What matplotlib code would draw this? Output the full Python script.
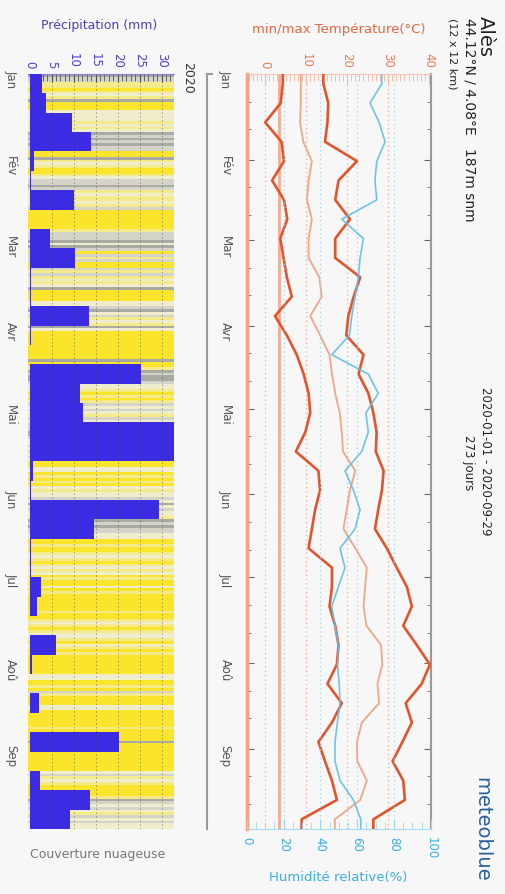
import numpy as np
import matplotlib.pyplot as plt
from matplotlib.colors import ListedColormap
from matplotlib.transforms import blended_transform_factory

# weekly values, 2020-01-01 .. 2020-09-29 (39 weeks)
t_min = [4.3, 3.8, 0.0, 4.0, 4.6, 1.7, 4.6, 5.4, 3.7, 4.5,
         5.3, 6.5, 2.4, 5.3, 7.7, 9.4, 10.6, 11.0, 9.8, 7.5,
         13.0, 13.4, 12.2, 11.4, 10.6, 16.3, 16.3, 15.7, 17.1, 17.9,
         17.5, 15.2, 18.7, 16.3, 13.0, 14.6, 16.3, 17.5, 8.9]
t_max = [14.2, 15.4, 15.2, 14.6, 22.4, 17.9, 17.1, 20.7, 17.1, 17.1,
         23.2, 21.6, 20.3, 19.8, 24.0, 22.8, 25.2, 26.4, 27.2, 27.0,
         28.9, 28.5, 27.6, 26.8, 29.7, 32.1, 34.6, 35.8, 33.7, 37.0,
         40.2, 38.2, 34.3, 35.8, 33.5, 31.1, 33.7, 34.1, 26.4]
t_mean = [8.7, 8.7, 8.5, 9.3, 11.4, 10.6, 10.2, 11.4, 10.6, 10.6,
          13.2, 13.8, 11.0, 13.4, 15.7, 16.3, 17.1, 18.2, 18.7, 19.0,
          22.0, 20.7, 19.9, 19.1, 22.0, 24.8, 24.4, 24.0, 24.7, 28.3,
          28.6, 27.4, 27.8, 23.6, 22.4, 22.5, 24.8, 23.2, 17.0]
humidity = [73.4, 67.0, 72.0, 75.2, 70.7, 69.7, 70.7, 51.6, 63.4, 61.6,
            60.7, 58.9, 57.1, 55.8, 46.2, 66.1, 71.5, 64.8, 66.1, 62.5,
            53.4, 58.0, 61.6, 58.9, 50.7, 53.4, 49.8, 46.2, 48.0, 49.8,
            49.3, 50.3, 50.7, 49.3, 48.0, 48.0, 50.7, 58.0, 62.0]
precip = [2.8, 3.8, 9.6, 14.0, 1.0, 0.4, 10.0, 0.0, 4.6, 10.2,
          0.3, 0.3, 13.5, 0.3, 0.0, 25.4, 11.5, 12.2, 45.0, 40.0,
          0.8, 0.3, 29.5, 14.6, 0.3, 0.3, 2.5, 1.7, 0.0, 6.1,
          0.6, 0.0, 2.1, 0.0, 20.2, 0.0, 2.3, 13.7, 9.1]
# daily cloud cover class, one string per week (0 clear .. 4 overcast)
cloud = ["4331101", "2140002", "2221212", "4343433", "0041210", "0123343",
         "1211213", "0000000", "1333424", "3031300", "3131212", "4000022",
         "3423121", "4200000", "0000040", "0143443", "2210101", "3232132",
         "3334432", "2323232", "0022010", "1021223", "2423221", "4343322",
         "0010012", "1012120", "1002010", "0000010", "0121012", "2102101",
         "0000000", "2200103", "1000220", "0000010", "0004000", "0000000",
         "2312100", "0014323", "2132322"]

months = ["Jan", "Fév", "Mar", "Avr", "Mai", "Jun", "Jul", "Aoû", "Sep"]
month_start = [0, 31, 60, 91, 121, 152, 182, 213, 244]
n_days = 273

W, H = 505, 895
bg = "#f7f7f7"
fig = plt.figure(figsize=(W / 100, H / 100), dpi=100, facecolor=bg)


def box(x0, x1, y0, y1):
    return [x0 / W, 1 - y1 / H, (x1 - x0) / W, (y1 - y0) / H]


week_mid = np.arange(len(t_min)) * 7 + 3.5
tt = np.r_[0, week_mid, n_days]


def ext(v):
    return np.r_[v[0], v, v[-1]]


# ---- temperature / humidity panel
ax = fig.add_axes(box(246.7, 430.7, 75, 830), facecolor=bg)
axh = ax.twiny()
ax.xaxis.tick_top()
axh.xaxis.tick_bottom()

for v in [0, 10, 20, 30]:
    ax.axvline(v, color="#f4a88e", ls=(0, (1, 2.5)), lw=0.9, zorder=1)
for v in [20, 40, 60, 80]:
    axh.axvline(v, color="#9fd4f0", ls=(0, (1, 2.5)), lw=0.9, zorder=1)
ax.axvline(3.5, color="#f4ab92", lw=2, zorder=1)

ax.plot(ext(t_mean), tt, color="#f2a587", lw=1.3, zorder=3)
ax.plot(ext(t_min), tt, color="#e2542c", lw=1.9, zorder=4)
ax.plot(ext(t_max), tt, color="#e2542c", lw=1.9, zorder=4)
axh.plot(ext(humidity), tt, color="#62bde9", lw=1.2, alpha=0.9, zorder=5)

ax.set_xlim(-4.5, 40.4)
axh.set_xlim(0, 100)
ax.set_ylim(n_days, 0)

ax.set_xticks([0, 10, 20, 30, 40])
ax.set_xticks(np.arange(-4, 41), minor=True)
ax.tick_params(axis="x", which="both", direction="in", color="#f5b6a0",
               labelcolor="#ef7a55", labelsize=8.5, labelrotation=-90, pad=5)
ax.tick_params(axis="x", which="major", length=7)
ax.tick_params(axis="x", which="minor", length=5)

axh.set_xticks([0, 20, 40, 60, 80, 100])
axh.set_xticks(np.arange(0, 101, 5), minor=True)
axh.tick_params(axis="x", which="both", direction="in", color="#9cd6f2",
                labelcolor="#3aaee6", labelsize=8.5, labelrotation=-90, pad=5)
axh.tick_params(axis="x", which="major", length=7)
axh.tick_params(axis="x", which="minor", length=5)

ax.set_yticks(month_start, labels=months)
ax.set_yticks([m + d for m in month_start for d in (10, 20) if m + d < n_days], minor=True)
ax.tick_params(axis="y", which="both", direction="in", left=True, right=True,
               color="#666666", labelcolor="#555555", labelsize=8.5,
               labelrotation=-90, pad=11)
ax.tick_params(axis="y", which="major", length=5)
ax.tick_params(axis="y", which="minor", length=3)

ax.spines["left"].set_color("#f4a184")
ax.spines["left"].set_linewidth(2.5)
ax.spines["top"].set_color("#f8c4b2")
ax.spines["bottom"].set_color("#a8dcf3")
ax.spines["right"].set_color("#9a9a9a")
ax.spines["right"].set_linewidth(1.5)
for s in axh.spines.values():
    s.set_visible(False)

# year axis line
tr = blended_transform_factory(ax.transAxes, ax.transData)
ax.plot([-0.216, -0.216], [0, n_days], transform=tr, clip_on=False,
        color="#9a9a9a", lw=1.5)
ax.plot([-0.216, -0.19], [0, 0], transform=tr, clip_on=False,
        color="#9a9a9a", lw=1.5)

# ---- precipitation / cloud panel
axp = fig.add_axes(box(28.3, 174, 75, 830), facecolor=bg)
levels = np.array([int(c) for w in cloud for c in w])
cmap = ListedColormap(["#fbe42c", "#f5ea8a", "#f0edcd", "#d4d4c8", "#aaaaa4"])
axp.pcolormesh([-0.3, 32.8], np.arange(n_days + 1), levels[:, None],
               cmap=cmap, vmin=-0.5, vmax=4.5, zorder=1)
axp.barh(week_mid, precip, height=7, color="#3b2be2", zorder=3)
for v in [5, 10, 15, 20, 25, 30]:
    axp.axvline(v, color="#444444", ls=(0, (1.5, 2.5)), lw=0.7, alpha=0.5, zorder=4)
axp.set_xlim(-0.3, 32.8)
axp.set_ylim(n_days, 0)
axp.xaxis.tick_top()
axp.set_xticks([0, 5, 10, 15, 20, 25, 30])
axp.set_xticks(np.arange(0, 33), minor=True)
axp.tick_params(axis="x", which="both", direction="in", color="#555555",
                labelcolor="#4b3fd0", labelsize=8.5, labelrotation=-90, pad=5)
axp.tick_params(axis="x", which="major", length=6)
axp.tick_params(axis="x", which="minor", length=5)
axp.set_yticks(month_start, labels=months)
axp.tick_params(axis="y", length=0, labelcolor="#555555", labelsize=8.5,
                labelrotation=-90, pad=8)
for k in ["left", "right", "bottom"]:
    axp.spines[k].set_visible(False)
axp.spines["top"].set_color("#8a80e0")

# ---- texts
fig.text(339 / W, 1 - 30 / H, "min/max Température(°C)", ha="center", va="center",
         color="#e8673f", fontsize=9.5)
fig.text(338 / W, 1 - 878 / H, "Humidité relative(%)", ha="center", va="center",
         color="#3aaee6", fontsize=9.5)
fig.text(99 / W, 1 - 25 / H, "Précipitation (mm)", ha="center", va="center",
         color="#4d3fc4", fontsize=9)
fig.text(98 / W, 1 - 855 / H, "Couverture nuageuse", ha="center", va="center",
         color="#777777", fontsize=9)
fig.text(188 / W, 1 - 78 / H, "2020", ha="center", va="center", rotation=-90,
         color="#333333", fontsize=9)

rot = dict(rotation=-90, rotation_mode="anchor", va="center")
fig.text(485 / W, 1 - 16 / H, "Alès", ha="left", fontsize=14, color="#222222", **rot)
fig.text(469 / W, 1 - 18 / H, "44.12°N / 4.08°E   187m snm", ha="left",
         fontsize=10, color="#222222", **rot)
fig.text(452 / W, 1 - 18 / H, "(12 x 12 km)", ha="left", fontsize=8,
         color="#222222", **rot)
fig.text(486 / W, 1 - 461 / H, "2020-01-01 - 2020-09-29", ha="center",
         fontsize=8.5, color="#222222", **rot)
fig.text(469 / W, 1 - 463 / H, "273 jours", ha="center", fontsize=8.5,
         color="#222222", **rot)
fig.text(482 / W, 1 - 777 / H, "meteoblue", ha="left", fontsize=14,
         color="#29609f", **rot)

fig.savefig("out.png", dpi=100, facecolor=bg)
